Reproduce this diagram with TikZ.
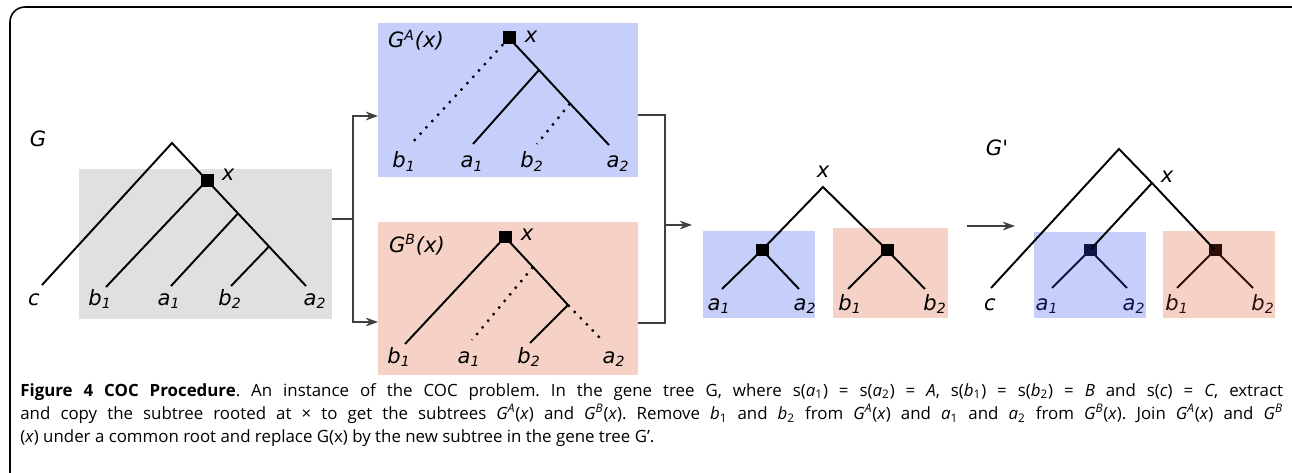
\documentclass[tikz,border=0pt]{standalone}
\usepackage{fontspec}
\setmainfont{Open Sans}
\newfontfamily\dejavu{DejaVu Sans}
\usetikzlibrary{arrows.meta}
\definecolor{grayback}{RGB}{224,224,224}
\definecolor{blueback}{RGB}{198,206,250}
\definecolor{pinkback}{RGB}{246,210,198}
\definecolor{bluedark}{RGB}{14,20,72}
\definecolor{pinkdark}{RGB}{48,14,8}
\colorlet{conncolor}{black!75}
\frenchspacing

\tikzset{
  edge/.style={line width=1.1pt},
  gone/.style={line width=1.3pt, dash pattern=on 1.3pt off 3.6pt},
  conn/.style={conncolor, line width=0.7pt},
  sqnode/.style={fill=black, minimum size=0.26cm, inner sep=0pt},
  lbl/.style={font=\fontsize{12}{14}\selectfont\dejavu\itshape, anchor=base, inner sep=0pt},
}

\begin{document}
\begin{tikzpicture}[x=0.02cm, y=-0.02cm, >={Stealth[length=7pt, width=5pt]}]

  % one unit is one pixel of the 1292 x 473 figure, y runs downwards
  \useasboundingbox (0,0) rectangle (1292,473);
  \fill[white] (0,0) rectangle (1292,473);
  \begin{scope}
    \clip (0,0) rectangle (1292,473);
    \draw[line width=0.9pt, rounded corners=0.3cm] (10,7) rectangle (1310,490);
  \end{scope}

  % G, with the subtree under x shaded
  \fill[grayback] (79,169) rectangle (332,319);
  \coordinate (g-r) at (172,143);
  \node[sqnode] (g-x) at (207,180.3) {};
  \coordinate (g-u) at (238,213.4);
  \coordinate (g-v) at (269,246.5);
  \coordinate (g-c) at (42,285);
  \coordinate (g-b1) at (106,287);
  \coordinate (g-a1) at (171,286);
  \coordinate (g-b2) at (231,286);
  \coordinate (g-a2) at (306,286);
  \draw[edge] (g-c) -- (g-r) -- (g-x.center) -- (g-u) -- (g-v) -- (g-a2);
  \draw[edge] (g-x.center) -- (g-b1);
  \draw[edge] (g-u) -- (g-a1);
  \draw[edge] (g-v) -- (g-b2);
  \node[lbl] (g-name) at (38,147) {G};
  \node[lbl] (g-xl) at (228,180) {x};
  \node[lbl] (g-lc) at (34,305) {c};
  \node[lbl] (g-lb1) at (100,305) {b\textsubscript{1}};
  \node[lbl] (g-la1) at (169,305) {a\textsubscript{1}};
  \node[lbl] (g-lb2) at (230,305) {b\textsubscript{2}};
  \node[lbl] (g-la2) at (315,305) {a\textsubscript{2}};

  % copy kept for species A
  \fill[blueback] (378,23) rectangle (638,177);
  \node[sqnode] (ga-x) at (509,38) {};
  \coordinate (ga-u) at (539,70);
  \coordinate (ga-v) at (570,103.5);
  \coordinate (ga-b1) at (412,143);
  \coordinate (ga-a1) at (473,144);
  \coordinate (ga-b2) at (537,144);
  \coordinate (ga-a2) at (609,145);
  \draw[edge] (ga-x.center) -- (ga-u) -- (ga-v) -- (ga-a2);
  \draw[edge] (ga-u) -- (ga-a1);
  \draw[gone] (ga-x.center) -- (ga-b1);
  \draw[gone] (ga-v) -- (ga-b2);
  \node[lbl] (ga-name) at (416,48) {G\textsuperscript{A}(x)};
  \node[lbl] (ga-xl) at (531,43) {x};
  \node[lbl] (ga-lb1) at (404,168) {b\textsubscript{1}};
  \node[lbl] (ga-la1) at (472,168) {a\textsubscript{1}};
  \node[lbl] (ga-lb2) at (532,168) {b\textsubscript{2}};
  \node[lbl] (ga-la2) at (618,168) {a\textsubscript{2}};

  % copy kept for species B
  \fill[pinkback] (378,222) rectangle (638,375);
  \node[sqnode] (gb-x) at (505,237) {};
  \coordinate (gb-u) at (533,267);
  \coordinate (gb-v) at (568,305);
  \coordinate (gb-b1) at (405,344);
  \coordinate (gb-a1) at (472,340);
  \coordinate (gb-b2) at (530,343);
  \coordinate (gb-a2) at (602,340);
  \draw[edge] (gb-b1) -- (gb-x.center) -- (gb-u) -- (gb-v) -- (gb-b2);
  \draw[gone] (gb-u) -- (gb-a1);
  \draw[gone] (gb-v) -- (gb-a2);
  \node[lbl] (gb-name) at (417,252) {G\textsuperscript{B}(x)};
  \node[lbl] (gb-xl) at (527,240) {x};
  \node[lbl] (gb-lb1) at (399,363) {b\textsubscript{1}};
  \node[lbl] (gb-la1) at (469,363) {a\textsubscript{1}};
  \node[lbl] (gb-lb2) at (529,363) {b\textsubscript{2}};
  \node[lbl] (gb-la2) at (614,363) {a\textsubscript{2}};

  % split and join brackets
  \coordinate (sp-in) at (332,219);
  \coordinate (sp) at (353,219);
  \coordinate (ga-in) at (378,116);
  \coordinate (gb-in) at (378,322);
  \draw[conn] (sp-in) -- (sp);
  \draw[conn, ->] (sp) |- (ga-in);
  \draw[conn, ->] (sp) |- (gb-in);
  \coordinate (ga-out) at (638,115);
  \coordinate (gb-out) at (638,323);
  \coordinate (jn) at (665,225);
  \coordinate (jn-out) at (692,225);
  \draw[conn] (ga-out) -| (jn);
  \draw[conn] (gb-out) -| (jn);
  \draw[conn, ->] (jn) -- (jn-out);

  % the two copies under a common root
  \fill[blueback] (703,231) rectangle (815,318);
  \fill[pinkback] (833,228) rectangle (948,318);
  \coordinate (j-r) at (823,187);
  \node[sqnode] (j-a) at (762,250) {};
  \node[sqnode] (j-b) at (887,250) {};
  \coordinate (j-a1) at (722,289);
  \coordinate (j-a2) at (799,289);
  \coordinate (j-b1) at (848,289);
  \coordinate (j-b2) at (925,289);
  \draw[edge] (j-a.center) -- (j-r) -- (j-b.center);
  \draw[edge] (j-a1) -- (j-a.center) -- (j-a2);
  \draw[edge] (j-b1) -- (j-b.center) -- (j-b2);
  \node[lbl] (j-xl) at (823,177) {x};
  \node[lbl] (j-la1) at (719,310) {a\textsubscript{1}};
  \node[lbl] (j-la2) at (805,310) {a\textsubscript{2}};
  \node[lbl] (j-lb1) at (850,310) {b\textsubscript{1}};
  \node[lbl] (j-lb2) at (935,310) {b\textsubscript{2}};

  \coordinate (j-out) at (967,226);
  \coordinate (h-in) at (1015,226);
  \draw[conn, ->] (j-out) -- (h-in);

  % G', the joined subtree put back in place of G(x)
  \fill[blueback] (1034,232) rectangle (1146,318);
  \fill[pinkback] (1163,231) rectangle (1275,318);
  \coordinate (h-r) at (1119,149);
  \coordinate (h-x) at (1152,183);
  \coordinate (h-c) at (991,288);
  \node[sqnode, fill=bluedark] (h-a) at (1090,250) {};
  \node[sqnode, fill=pinkdark] (h-b) at (1215,250) {};
  \coordinate (h-a1) at (1052,288);
  \coordinate (h-a2) at (1127,288);
  \coordinate (h-b1) at (1177,288);
  \coordinate (h-b2) at (1253,288);
  \draw[edge] (h-c) -- (h-r) -- (h-x) -- (h-b.center);
  \draw[edge] (h-x) -- (h-a.center);
  \draw[edge, bluedark] (h-a1) -- (h-a.center) -- (h-a2);
  \draw[edge, pinkdark] (h-b1) -- (h-b.center) -- (h-b2);
  \node[lbl] (h-name) at (997,155) {G'};
  \node[lbl] (h-xl) at (1167,182) {x};
  \node[lbl] (h-lc) at (990,310) {c};
  \node[lbl, bluedark] (h-la1) at (1047,310) {a\textsubscript{1}};
  \node[lbl, bluedark] (h-la2) at (1134,310) {a\textsubscript{2}};
  \node[lbl, pinkdark] (h-lb1) at (1177,310) {b\textsubscript{1}};
  \node[lbl, pinkdark] (h-lb2) at (1263,310) {b\textsubscript{2}};

  % caption
  \node[anchor=base west, text width=25.26cm, align=justify, inner sep=0pt,
    font=\fontsize{9.6}{13.3}\selectfont] (caption) at (20,396)
    {\textbf{Figure 4 COC Procedure}. An instance of the COC problem. In the gene tree G, where s(\textit{a}\textsubscript{1}) = s(\textit{a}\textsubscript{2}) = \textit{A}, s(\textit{b}\textsubscript{1}) = s(\textit{b}\textsubscript{2}) = \textit{B} and s(\textit{c}) = \textit{C}, extract\linebreak
    and copy the subtree rooted at × to get the subtrees \textit{G}\textsuperscript{\textit{A}}(\textit{x}) and \textit{G}\textsuperscript{\textit{B}}(\textit{x}). Remove \textit{b}\textsubscript{1} and \textit{b}\textsubscript{2} from \textit{G}\textsuperscript{\textit{A}}(\textit{x}) and \textit{a}\textsubscript{1} and \textit{a}\textsubscript{2} from \textit{G}\textsuperscript{\textit{B}}(\textit{x}). Join \textit{G}\textsuperscript{\textit{A}}(\textit{x}) and \textit{G}\textsuperscript{\textit{B}}\linebreak
    (\textit{x}) under a common root and replace G(x) by the new subtree in the gene tree G’.};

\end{tikzpicture}
\end{document}
